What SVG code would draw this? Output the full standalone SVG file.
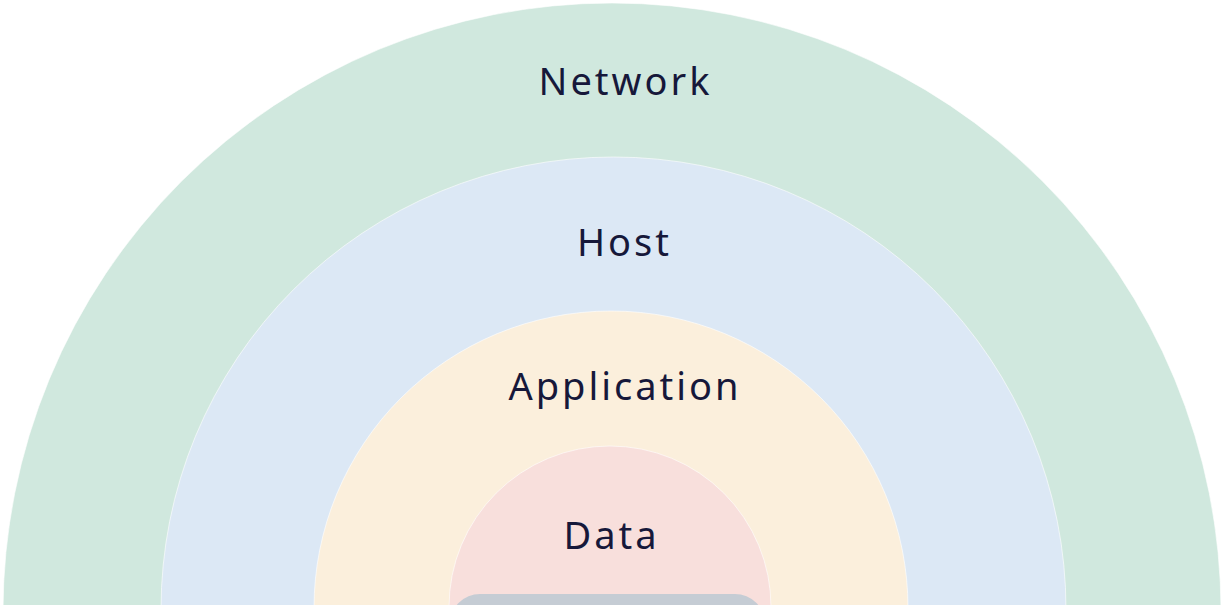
<svg xmlns="http://www.w3.org/2000/svg" width="1223" height="605" viewBox="0 0 1223 605">
<style>
.ring{stroke:#ffffff;stroke-width:1;stroke-opacity:0.6}
.lbl{font-family:"Noto Sans","Open Sans",sans-serif;font-size:38px;fill:#16183a;letter-spacing:3px;text-anchor:middle}
</style>
<rect width="1223" height="605" fill="#ffffff"/>
<g id="network"><circle class="ring" cx="612" cy="612" r="609" fill="#d0e8de"/><text class="lbl" x="625.5" y="95">Network</text></g>
<g id="host"><circle class="ring" cx="613.5" cy="609.5" r="452.5" fill="#dce8f5"/><text class="lbl" x="624.5" y="256">Host</text></g>
<g id="application"><circle class="ring" cx="611" cy="608" r="297" fill="#fbefdc"/><text class="lbl" x="625" y="400">Application</text></g>
<g id="data"><circle class="ring" cx="610" cy="607" r="161" fill="#f8dfdc"/><text class="lbl" x="611.5" y="549">Data</text></g>
<g id="core"><rect x="450" y="594" width="315" height="60" rx="30" fill="#c5ccd4"/></g>
<g id="connectors"/>
</svg>
